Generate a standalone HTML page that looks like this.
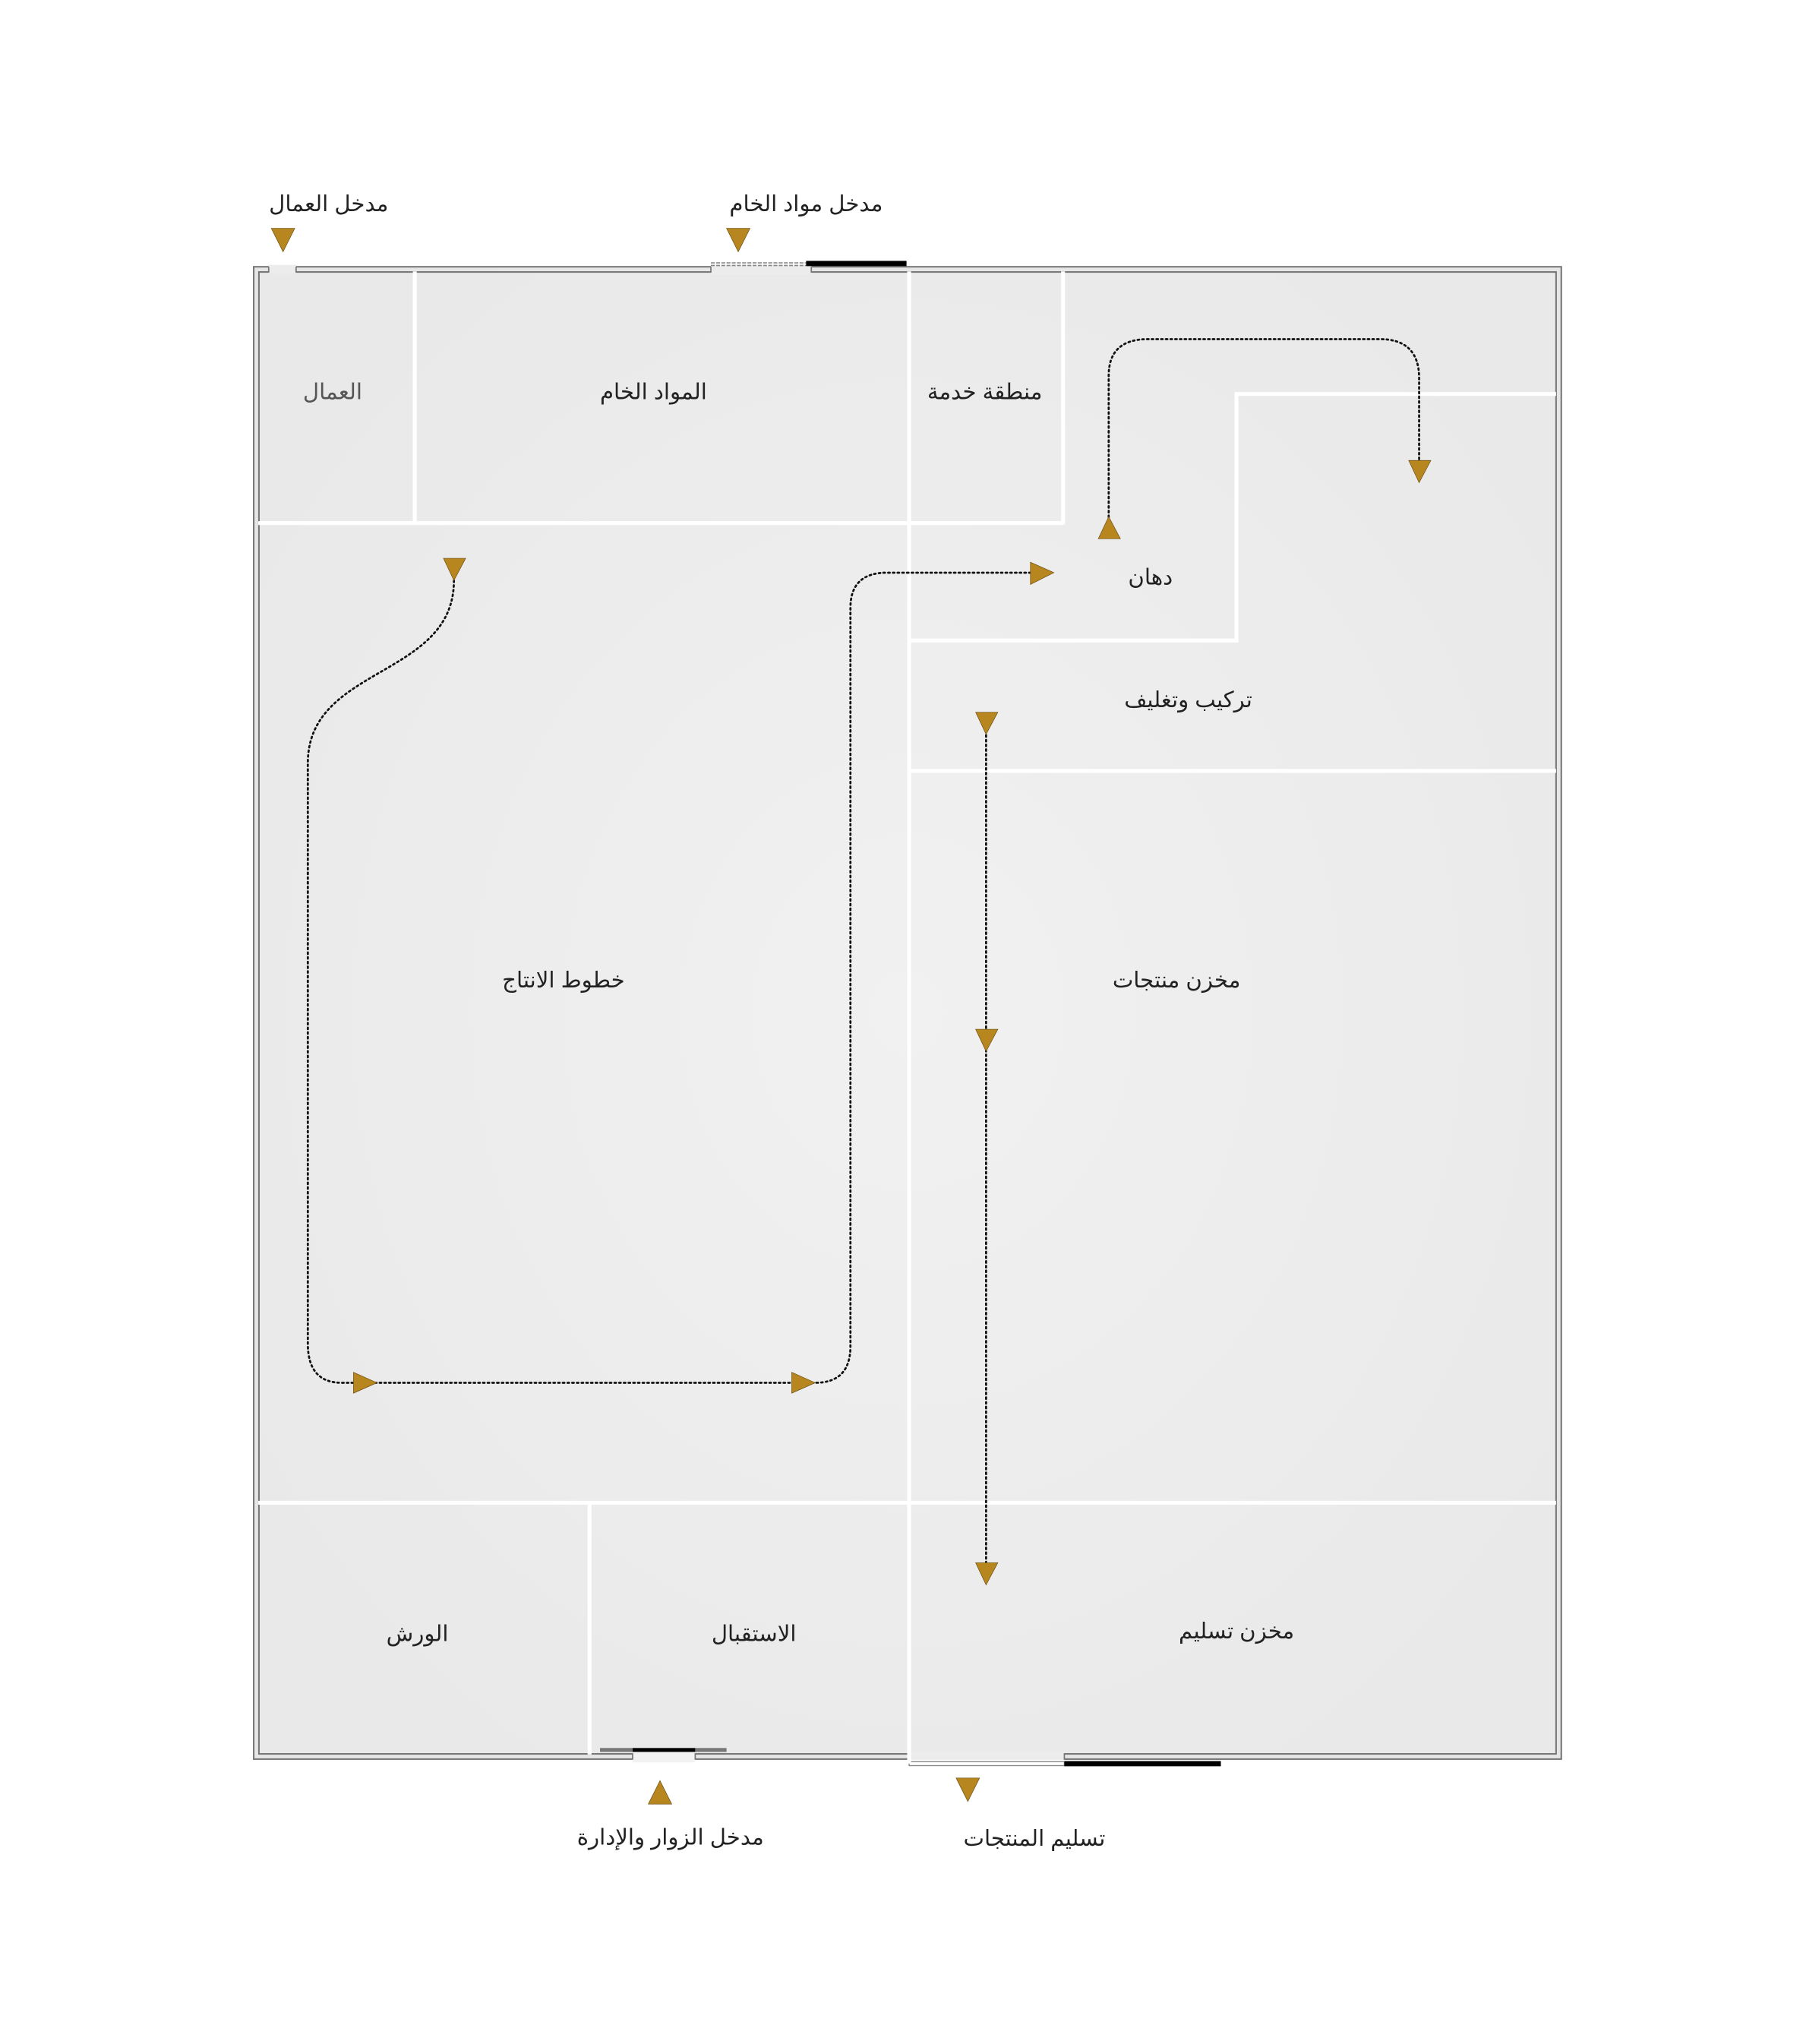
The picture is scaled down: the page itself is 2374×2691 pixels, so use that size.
<!DOCTYPE html>
<html><head><meta charset="utf-8"><style>
html,body{margin:0;padding:0;background:#fff;}
svg{display:block;}
text{font-family:"Liberation Sans","Noto Sans CJK SC","DejaVu Sans",sans-serif;font-size:17px;fill:#222;text-anchor:middle;}
</style></head><body>
<svg width="2374" height="2691" viewBox="0 0 1382.3 1566.9" xmlns="http://www.w3.org/2000/svg">
<defs>
<radialGradient id="g" cx="0.5" cy="0.5" r="0.6">
<stop offset="0" stop-color="#f1f1f1"/><stop offset="1" stop-color="#e9e9e9"/>
</radialGradient>
</defs>
<rect x="194.5" y="204.5" width="1002.5" height="1144" fill="#e6e6e6" stroke="#777" stroke-width="1.2"/>
<rect x="198.5" y="208.5" width="994.5" height="1136" fill="url(#g)" stroke="#777" stroke-width="1.2"/>
<rect x="206" y="203" width="21" height="7" fill="#ececec"/>
<line x1="206" y1="204.5" x2="206" y2="209" stroke="#777"/><line x1="227" y1="204.5" x2="227" y2="209" stroke="#777"/>
<rect x="545" y="199" width="77" height="11" fill="#fff"/>
<rect x="545" y="204" width="77" height="6" fill="#ececec"/>
<line x1="545" y1="201.5" x2="618" y2="201.5" stroke="#888" stroke-width="1" stroke-dasharray="3,1"/>
<line x1="545" y1="203.5" x2="618" y2="203.5" stroke="#888" stroke-width="1" stroke-dasharray="3,1"/>
<rect x="618" y="200" width="77" height="4" fill="#000"/>
<line x1="545" y1="204.5" x2="545" y2="209" stroke="#777"/><line x1="622" y1="204.5" x2="622" y2="209" stroke="#777"/>
<rect x="485" y="1343" width="48" height="8" fill="#f2f2f2"/>
<line x1="485" y1="1344" x2="485" y2="1349" stroke="#777"/><line x1="533" y1="1344" x2="533" y2="1349" stroke="#777"/>
<rect x="460" y="1340" width="25" height="3" fill="#777"/>
<rect x="533" y="1340" width="24" height="3" fill="#777"/>
<rect x="485" y="1340" width="48" height="3" fill="#000"/>
<rect x="697" y="1343" width="119" height="8" fill="#fff"/>
<rect x="697" y="1343" width="119" height="6" fill="#ececec"/>
<line x1="697" y1="1344" x2="697" y2="1349" stroke="#777"/><line x1="816" y1="1344" x2="816" y2="1349" stroke="#777"/>
<rect x="697" y="1350.5" width="119" height="3" fill="#fff" stroke="#888" stroke-width="0.8"/>
<rect x="816" y="1350" width="120" height="4" fill="#000"/>
<g stroke="#fff" stroke-width="3" fill="none">
<line x1="198" y1="401" x2="815" y2="401"/>
<line x1="318" y1="208" x2="318" y2="401"/>
<line x1="697" y1="208" x2="697" y2="1352"/>
<line x1="815" y1="208" x2="815" y2="402"/>
<polyline points="1193,302 948,302 948,491 697,491"/>
<line x1="697" y1="591" x2="1193" y2="591"/>
<line x1="198" y1="1152" x2="1193" y2="1152"/>
<line x1="452" y1="1152" x2="452" y2="1345"/>
</g>
<g stroke="#111" stroke-width="1.6" fill="none" stroke-dasharray="1.2,2.4" stroke-linecap="round">
<path d="M348,445 C348,520 236,510 236,585 L236,1030 Q236,1060 262,1060 L625,1060 Q652,1060 652,1032 L652,466 Q652,439 680,439 L800,439"/>
<path d="M850,400 L850,288 Q850,260 880,260 L1058,260 Q1088,260 1088,290 L1088,355"/>
<path d="M756,560 L756,1200"/>
</g>
<g fill="#b8861e" stroke="#6a4e10" stroke-width="0.4">
<path d="M208,175 L226,175 L217,193 Z"/>
<path d="M557,175 L575,175 L566,193 Z"/>
<path d="M340,428 L357,428 L348,445 Z"/>
<path d="M842,413 L859,413 L850,396 Z"/>
<path d="M1080,353 L1097,353 L1088,370 Z"/>
<path d="M790,431 L790,448 L808,439 Z"/>
<path d="M748,546 L765,546 L756,563 Z"/>
<path d="M748,789 L765,789 L756,806 Z"/>
<path d="M748,1198 L765,1198 L756,1215 Z"/>
<path d="M271,1052 L271,1068 L289,1060 Z"/>
<path d="M607,1052 L607,1068 L625,1060 Z"/>
<path d="M497,1383 L515,1383 L506,1365 Z"/>
<path d="M733,1363 L751,1363 L742,1381 Z"/>
</g>
<text x="255" y="306" style="fill:#555">العمال</text>
<text x="501" y="306">المواد الخام</text>
<text x="755" y="306">منطقة خدمة</text>
<text x="882" y="448">دهان</text>
<text x="911" y="542">تركيب وتغليف</text>
<text x="432" y="757">خطوط الانتاج</text>
<text x="902" y="757">مخزن منتجات</text>
<text x="320" y="1258">الورش</text>
<text x="578" y="1258">الاستقبال</text>
<text x="948" y="1256">مخزن تسليم</text>
<text x="252" y="162">مدخل العمال</text>
<text x="618" y="162">مدخل مواد الخام</text>
<text x="514" y="1414">مدخل الزوار والإدارة</text>
<text x="793" y="1415">تسليم المنتجات</text>
</svg>
</body></html>
